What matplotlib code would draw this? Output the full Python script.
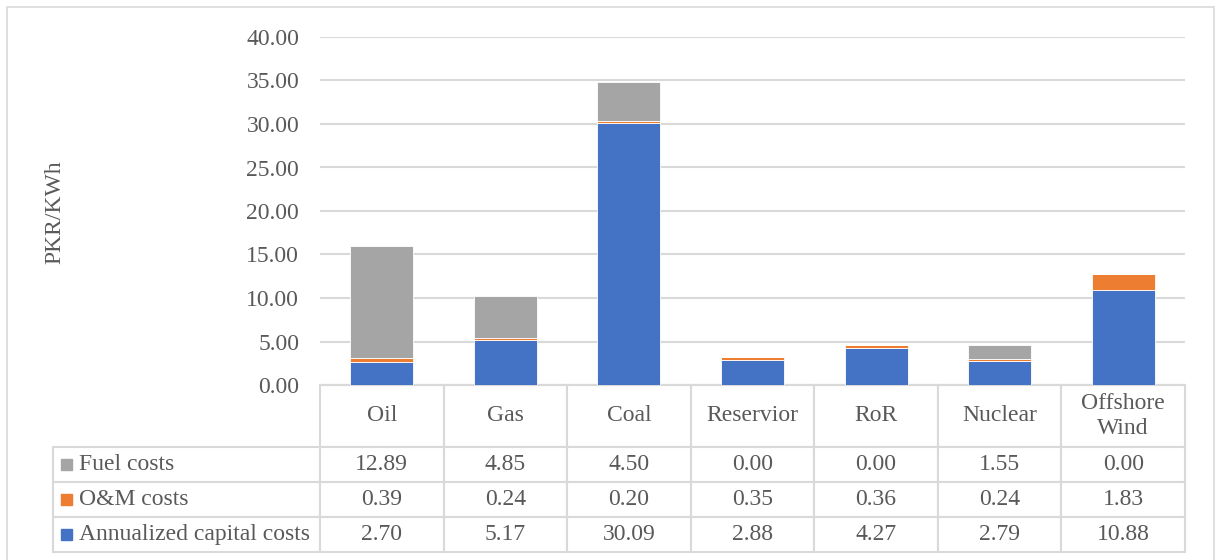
import matplotlib.pyplot as plt
import numpy as np
from matplotlib.patches import Rectangle
from matplotlib.table import Table

plt.rcParams['font.family'] = ['Liberation Serif', 'DejaVu Serif']

# 発電方式ごとのコスト (PKR/KWh)
categories = ['Oil', 'Gas', 'Coal', 'Reservior', 'RoR', 'Nuclear', 'Offshore\nWind']
capital = [2.70, 5.17, 30.09, 2.88, 4.27, 2.79, 10.88]
om = [0.39, 0.24, 0.20, 0.35, 0.36, 0.24, 1.83]
fuel = [12.89, 4.85, 4.50, 0.00, 0.00, 1.55, 0.00]

series_names = ['Fuel costs', 'O&M costs', 'Annualized capital costs']
colors = {'Fuel costs': '#a5a5a5', 'O&M costs': '#ed7d31',
          'Annualized capital costs': '#4472c4'}
yticks = np.arange(0, 40.01, 5)

text_color = '#595959'
grid_color = '#d9d9d9'
fs = 17

fig = plt.figure(figsize=(12.16, 5.6), dpi=100)
W, H = 1216, 560

# 外枠
fig.patches.append(Rectangle((7 / W, -0.1), (1214 - 7) / W, 1.1 - 7 / H,
                             transform=fig.transFigure, fill=False,
                             edgecolor=grid_color, linewidth=1.2))

ax = fig.add_axes([320 / W, 1 - 385 / H, 865 / W, 348 / H])

x = np.arange(len(categories))
capital = np.array(capital)
om = np.array(om)
fuel = np.array(fuel)
bw = 0.51
ax.bar(x, capital, bw, color=colors['Annualized capital costs'],
       edgecolor='white', linewidth=0.6, zorder=3)
ax.bar(x, om, bw, bottom=capital, color=colors['O&M costs'],
       edgecolor='white', linewidth=0.6, zorder=3)
ax.bar(x, fuel, bw, bottom=capital + om, color=colors['Fuel costs'],
       edgecolor='white', linewidth=0.6, zorder=3)

ax.set_xlim(-0.5, len(categories) - 0.5)
ax.set_ylim(0, 40)
ax.set_yticks(yticks)
ax.set_yticklabels([f'{v:.2f}' for v in yticks], fontsize=fs, color=text_color)
ax.tick_params(axis='y', length=0, pad=15)
ax.set_xticks([])
ax.yaxis.grid(True, color=grid_color, linewidth=1.5, zorder=0)
for side in ['top', 'right', 'left']:
    ax.spines[side].set_visible(False)
ax.spines['bottom'].set_color(grid_color)
ax.spines['bottom'].set_linewidth(1.5)

fig.text(55 / W, 1 - 212 / H, 'PKR/KWh', rotation=90, ha='center',
         va='center', fontsize=fs, color=text_color)

# データテーブル
ax_h = 348
head_h = 62 / ax_h
row_h = 35 / ax_h
col_w = 1 / len(categories)
lab_w = (320 - 53) / 865

tbl = Table(ax, bbox=[0, -(head_h + 3 * row_h), 1, head_h + 3 * row_h])
for j, cat in enumerate(categories):
    tbl.add_cell(0, j, col_w, head_h, text=cat, loc='center')
rows = {'Fuel costs': fuel, 'O&M costs': om, 'Annualized capital costs': capital}
for i, name in enumerate(series_names, start=1):
    tbl.add_cell(i, -1, lab_w, row_h, text=name, loc='left')
    for j, v in enumerate(rows[name]):
        tbl.add_cell(i, j, col_w, row_h, text=f'{v:.2f}', loc='center')
tbl.auto_set_font_size(False)
for (r, c), cell in tbl.get_celld().items():
    cell.set_edgecolor(grid_color)
    cell.set_linewidth(1.5)
    cell.get_text().set_fontsize(fs)
    cell.get_text().set_color(text_color)
    if c == -1:
        cell.PAD = 26 / (320 - 53)
tbl.set_clip_on(False)
ax.add_table(tbl)

# 凡例マーカー
for i, name in enumerate(series_names):
    yc = -head_h - (i + 0.5) * row_h
    sq_w = 11 / 865
    sq_h = 11 / ax_h
    ax.add_patch(Rectangle((-lab_w + 8 / 865, yc - sq_h / 2), sq_w, sq_h,
                           transform=ax.transAxes, color=colors[name],
                           clip_on=False))

fig.savefig('out.png', dpi=100)
